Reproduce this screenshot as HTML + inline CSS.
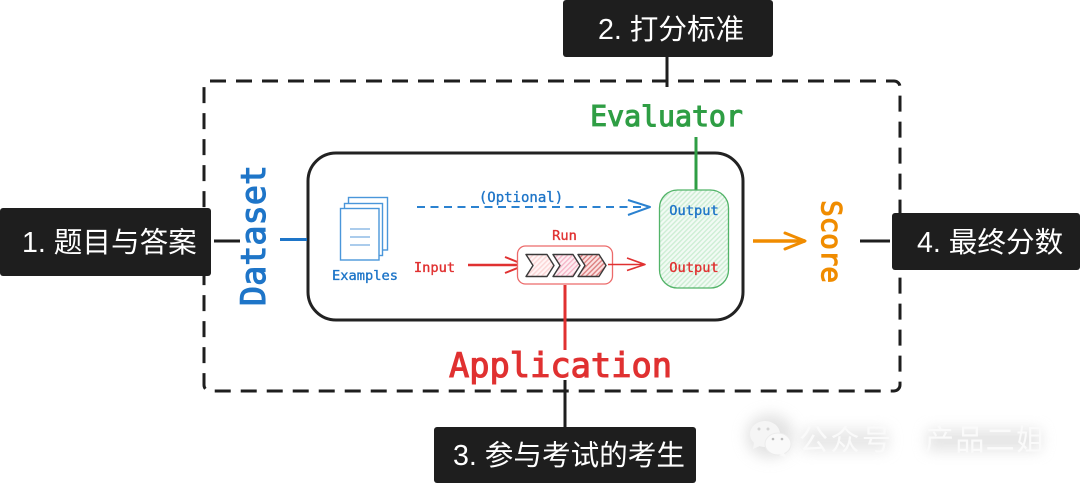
<!DOCTYPE html>
<html><head><meta charset="utf-8">
<style>
html,body{margin:0;padding:0;background:#fff;width:1080px;height:483px;overflow:hidden}
svg{display:block}
.m{font-family:"DejaVu Sans Mono","Liberation Mono",monospace}
.s{stroke-width:.35px}
.b{stroke-width:1.100px}
.c{font-family:"Liberation Sans","Noto Sans CJK SC",sans-serif;font-size:28.600px;fill:#fff}
</style></head><body>
<svg width="1080" height="483" viewBox="0 0 1080 483" xmlns="http://www.w3.org/2000/svg">
<defs>
<pattern id="hg" width="3.500" height="3.500" patternUnits="userSpaceOnUse" patternTransform="rotate(45)"><rect width="3.500" height="3.500" fill="#f2faf4"/><rect width="1.400" height="3.500" fill="#cdeed4"/></pattern>
<pattern id="h1" width="3.500" height="3.500" patternUnits="userSpaceOnUse" patternTransform="rotate(45)"><rect width="3.500" height="3.500" fill="#fff5f5"/><rect width="1.400" height="3.500" fill="#fbd5d5"/></pattern>
<pattern id="h2" width="3.500" height="3.500" patternUnits="userSpaceOnUse" patternTransform="rotate(45)"><rect width="3.500" height="3.500" fill="#fdeef2"/><rect width="1.400" height="3.500" fill="#f6b6c8"/></pattern>
<pattern id="h3" width="3.500" height="3.500" patternUnits="userSpaceOnUse" patternTransform="rotate(45)"><rect width="3.500" height="3.500" fill="#fbe3e3"/><rect width="1.400" height="3.500" fill="#dc8080"/></pattern>
<filter id="blur" x="-30%" y="-60%" width="160%" height="220%"><feGaussianBlur stdDeviation="7"/></filter>
</defs>

<!-- dashed boundary -->
<rect x="204" y="81" width="696" height="310" rx="6" fill="none" stroke="#1e1e1e" stroke-width="3" stroke-dasharray="16 10"/>
<!-- inner box -->
<rect x="308" y="153" width="435" height="167" rx="28" fill="#fff" stroke="#222" stroke-width="3"/>

<!-- connectors -->
<g fill="none" stroke-width="3">
<path d="M214 241H240M667 57V87M565 380V427M860 241H890" stroke="#1e1e1e"/>
<path d="M280 239.500H307" stroke="#1e75c8"/>
<path d="M696 137V190" stroke="#2f9e44"/>
<path d="M565 285V350" stroke="#e03131"/>
<path d="M753 241H805" stroke="#f08c00" stroke-width="3.500"/>
<path d="M785 233L805 241L785 249" stroke="#f08c00" stroke-linejoin="round" stroke-linecap="round"/>
</g>

<!-- documents -->
<g fill="#fff" stroke="#4a96da" stroke-width="1.400">
<rect x="348.500" y="197.500" width="39" height="52.500"/>
<rect x="344.500" y="203.500" width="38" height="52"/>
<rect x="340.500" y="208.500" width="38.500" height="51.500"/>
</g>
<path d="M350 229H370M350 237H370M350 245H370" stroke="#8fbce6" stroke-width="1.600"/>
<text x="365" y="280" text-anchor="middle" class="m s" font-size="13.700" fill="#1e75c8" stroke="#1e75c8">Examples</text>

<!-- optional -->
<path d="M417 207H648" fill="none" stroke="#2b82d0" stroke-width="2" stroke-dasharray="8 5.500"/>
<path d="M628 200L650 207L628 215" fill="none" stroke="#2b82d0" stroke-width="2" stroke-linejoin="round"/>
<text x="521" y="202" text-anchor="middle" class="m s" font-size="14" fill="#1e75c8" stroke="#1e75c8">(Optional)</text>

<!-- input -->
<text x="434.500" y="272" text-anchor="middle" class="m s" font-size="13.700" fill="#e03131" stroke="#e03131">Input</text>
<path d="M468 265H525" fill="none" stroke="#e03131" stroke-width="2.400"/>
<path d="M505 257L525 265L505 273" fill="none" stroke="#e03131" stroke-width="2" stroke-linejoin="round"/>

<!-- run -->
<text x="564.500" y="240" text-anchor="middle" class="m s" font-size="13.700" fill="#e03131" stroke="#e03131">Run</text>
<rect x="517.500" y="246" width="95" height="38" rx="8" fill="#fff" stroke="#ec6a6a" stroke-width="1.300"/>
<g stroke="#3a3a3a" stroke-width="1.400" stroke-linejoin="round">
<path d="M526 254.500H547L554 265.500L547 276.500H526L533 265.500Z" fill="url(#h1)"/>
<path d="M553 254.500H573L580 265.500L573 276.500H553L560 265.500Z" fill="url(#h2)"/>
<path d="M578 254.500H599L606 265.500L599 276.500H578L585 265.500Z" fill="url(#h3)"/>
</g>
<path d="M608 264.500H645M627 258L645 264.500L627 270.500" fill="none" stroke="#e03131" stroke-width="1.600" stroke-linejoin="round"/>

<!-- output box -->
<rect x="659.500" y="190" width="69" height="98" rx="18" fill="url(#hg)" stroke="#52b368" stroke-width="1.300"/>
<text x="694" y="215" text-anchor="middle" class="m s" font-size="13.700" fill="#1e75c8" stroke="#1e75c8">Output</text>
<text x="694" y="272" text-anchor="middle" class="m s" font-size="13.700" fill="#e03131" stroke="#e03131">Output</text>

<!-- big labels -->
<text x="666.500" y="126" text-anchor="middle" class="m b" font-size="28.200" fill="#2f9e44" stroke="#2f9e44">Evaluator</text>
<text x="560.500" y="377" text-anchor="middle" class="m b" font-size="33.700" fill="#e03131" stroke="#e03131">Application</text>
<text transform="translate(265 235.500) rotate(-90)" text-anchor="middle" class="m b" font-size="33.500" fill="#1e75c8" stroke="#1e75c8">Dataset</text>
<text transform="translate(822 241.500) rotate(90)" text-anchor="middle" class="m b" font-size="27.500" fill="#f08c00" stroke="#f08c00">Score</text>

<!-- black boxes -->
<g fill="#1e1e1e">
<rect x="0" y="208" width="211" height="68" rx="3"/>
<rect x="563" y="0" width="210" height="57" rx="3"/>
<rect x="434" y="427" width="262" height="56" rx="3"/>
<rect x="892" y="213" width="188" height="57" rx="3"/>
</g>
<text x="22" y="252" class="c">1. 题目与答案</text>
<text x="598" y="39" class="c">2. 打分标准</text>
<text x="453" y="465" class="c">3. 参与考试的考生</text>
<text x="917" y="252" class="c">4. 最终分数</text>

<!-- watermark -->
<g>
<ellipse cx="770" cy="436" rx="24" ry="22" fill="#d4d4d4" opacity=".65" filter="url(#blur)"/>
<rect x="802" y="429" width="86" height="22" fill="#dcdcdc" opacity=".65" filter="url(#blur)"/>
<rect x="927" y="429" width="114" height="22" fill="#d8d8d8" opacity=".65" filter="url(#blur)"/>
<ellipse cx="765" cy="434" rx="15" ry="13" fill="#f5f5f5"/>
<path d="M754 442L753 449L762 445Z" fill="#f5f5f5"/>
<ellipse cx="778" cy="444" rx="13" ry="11" fill="#f9f9f9" stroke="#ececec" stroke-width="1"/>
<path d="M784 453L787 458L779 455Z" fill="#f9f9f9"/>
<circle cx="759" cy="429" r="1.500" fill="#d4d4d4"/><circle cx="768" cy="429" r="1.500" fill="#d4d4d4"/>
<circle cx="773" cy="439" r="1.300" fill="#bdbdbd"/><circle cx="782" cy="439" r="1.300" fill="#bdbdbd"/>
<text x="799" y="450" font-family="'Liberation Sans','Noto Sans CJK SC',sans-serif" font-size="29" fill="#fafafa" textLength="92">公众号</text>
<text x="925" y="450" font-family="'Liberation Sans','Noto Sans CJK SC',sans-serif" font-size="29" fill="#fafafa" textLength="120">产品二姐</text>
</g>
</svg>
</body></html>
